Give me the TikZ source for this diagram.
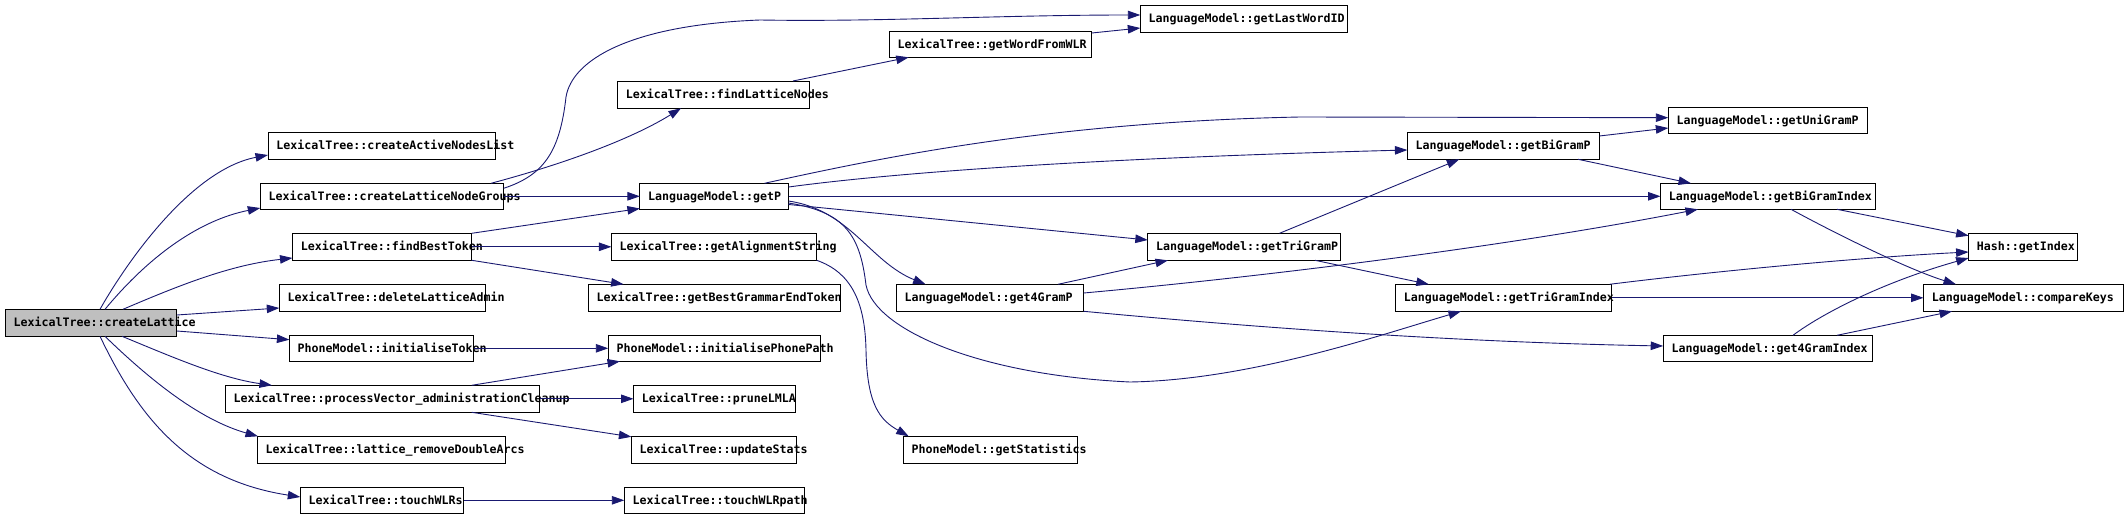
\documentclass[tikz,border=0pt]{standalone}
\usepackage{fontspec}
\newfontfamily\fnfont{DejaVu Sans Mono}
\usetikzlibrary{arrows.meta}
\definecolor{edgeblue}{HTML}{191970}
\definecolor{rootgray}{HTML}{BFBFBF}
\newcommand\fnbox[6]{\node[fn,minimum width=#3pt,minimum height=#5pt] (#1) at (#2,#4) {\makebox[#3pt][l]{\hspace{8.3pt}#6}};}
\newcommand\rel[3]{([shift={(#2,#3)}]#1.north west)}
\begin{document}
\begin{tikzpicture}[x=1pt,y=-1pt,
  fn/.style={draw=black, line width=1pt, inner sep=0pt, outer sep=0pt, anchor=north west,
    text height=8pt, text depth=0pt, font=\fnfont\bfseries\fontsize{11.63}{13}\selectfont},
  call/.style={draw=edgeblue, line width=0.9pt, -{Triangle[length=12.5pt,width=8.5pt]}},
]
\useasboundingbox (0,0) rectangle (2128,519);
% nodes
\node[fn,fill=rootgray,minimum width=171.4pt,minimum height=27pt] (cl) at (5.4,309.3) {\makebox[171.4pt][l]{\hspace{8.3pt}LexicalTree::createLattice}};
\fnbox{canl}{268}{227.4}{132.3}{27}{LexicalTree::createActiveNodesList}
\fnbox{clng}{260.3}{243.3}{183.3}{26}{LexicalTree::createLatticeNodeGroups}
\fnbox{fbt}{292.5}{179.2}{233.3}{27}{LexicalTree::findBestToken}
\fnbox{dla}{279.3}{206.3}{284.3}{27}{LexicalTree::deleteLatticeAdmin}
\fnbox{it}{289.4}{184.3}{335.3}{26}{PhoneModel::initialiseToken}
\fnbox{pv}{225.3}{314.2}{385.3}{27}{LexicalTree::processVector\_administrationCleanup}
\fnbox{lrda}{257.2}{248.4}{436.3}{27}{LexicalTree::lattice\_removeDoubleArcs}
\fnbox{tw}{300.3}{163.2}{487.3}{26}{LexicalTree::touchWLRs}
\fnbox{fln}{617.5}{192.1}{81}{27.3}{LexicalTree::findLatticeNodes}
\fnbox{gwfw}{889.3}{202.5}{31.3}{26}{LexicalTree::getWordFromWLR}
\fnbox{glw}{1140.3}{207}{5.3}{27.4}{LanguageModel::getLastWordID}
\fnbox{gp}{639.9}{148.6}{183.3}{26}{LanguageModel::getP}
\fnbox{gas}{611.4}{205.3}{233.3}{27}{LexicalTree::getAlignmentString}
\fnbox{gbget}{588.3}{252.2}{284.3}{27}{LexicalTree::getBestGrammarEndToken}
\fnbox{ipp}{608.3}{212.5}{335.3}{26}{PhoneModel::initialisePhonePath}
\fnbox{plm}{633.5}{161.8}{385.3}{27}{LexicalTree::pruneLMLA}
\fnbox{us}{631.4}{165.3}{436.3}{27}{LexicalTree::updateStats}
\fnbox{twp}{624.3}{180.5}{487.3}{26}{LexicalTree::touchWLRpath}
\fnbox{g4p}{896.4}{187.3}{284.3}{27}{LanguageModel::get4GramP}
\fnbox{gs}{903.2}{174.4}{436.3}{27}{PhoneModel::getStatistics}
\fnbox{gtp}{1147.8}{192.7}{233.3}{27}{LanguageModel::getTriGramP}
\fnbox{gbp}{1407.4}{192}{132.3}{27}{LanguageModel::getBiGramP}
\fnbox{gti}{1395.5}{216.1}{284.3}{27}{LanguageModel::getTriGramIndex}
\fnbox{gup}{1668.3}{199.5}{107.3}{26}{LanguageModel::getUniGramP}
\fnbox{gbi}{1660.5}{215.1}{183.3}{26}{LanguageModel::getBiGramIndex}
\fnbox{g4i}{1663.2}{209.4}{335.3}{26}{LanguageModel::get4GramIndex}
\fnbox{hgi}{1968.6}{109.2}{233.3}{27}{Hash::getIndex}
\fnbox{ck}{1923.5}{200.2}{284.3}{27}{LanguageModel::compareKeys}
% edges
\draw[call] \rel{cl}{94.6}{0} .. controls (125,265) and (190,170) .. \rel{canl}{0}{22.7};
\draw[call] \rel{cl}{99.6}{0} .. controls (150,255) and (200,220) .. \rel{clng}{0}{24.7};
\draw[call] \rel{cl}{117.6}{0} .. controls (180,285) and (230,265) .. \rel{fbt}{0}{24.7};
\draw[call] \rel{cl}{171.4}{5.7} -- \rel{dla}{0}{23.7};
\draw[call] \rel{cl}{171.4}{21.7} -- \rel{it}{0}{4.4};
\draw[call] \rel{cl}{116.6}{27} .. controls (170,356) and (220,378) .. \rel{pv}{46.7}{0};
\draw[call] \rel{cl}{99.6}{27} .. controls (150,380) and (200,420) .. \rel{lrda}{0.8}{0};
\draw[call] \rel{cl}{94.6}{27} .. controls (140,420) and (190,480) .. \rel{tw}{0}{9.7};
\draw[call] \rel{clng}{243.3}{5} .. controls (545,175) and (560,150) .. (566,97) .. controls (572,60) and (630,25) .. (760,20) .. controls (880,22) and (1000,15) .. \rel{glw}{0}{9.7};
\draw[call] \rel{clng}{230.7}{0} .. controls (560,165) and (630,140) .. \rel{fln}{63.5}{27.3};
\draw[call] (clng.east) -- (gp.west);
\draw[call] (fbt.north east) -- \rel{gp}{0}{25.2};
\draw[call] (fbt.east) -- (gas.west);
\draw[call] (fbt.south east) -- \rel{gbget}{35.3}{0};
\draw[call] (it.east) -- (ipp.west);
\draw[call] \rel{pv}{246.4}{0} -- \rel{ipp}{11.7}{26};
\draw[call] (pv.east) -- (plm.west);
\draw[call] \rel{pv}{246.4}{27} -- \rel{us}{0}{0.5};
\draw[call] (tw.east) -- (twp.west);
\draw[call] \rel{fln}{175.5}{0} -- \rel{gwfw}{19.4}{26};
\draw[call] \rel{gwfw}{202.5}{1.7} -- \rel{glw}{0}{22.7};
\draw[call] \rel{gp}{124.6}{0} .. controls (880,158) and (1050,122) .. (1300,117) -- \rel{gup}{0}{10.4};
\draw[call] \rel{gp}{148.6}{3.7} .. controls (900,172) and (1100,158) .. \rel{gbp}{0}{17.7};
\draw[call] (gp.east) -- (gbi.west);
\draw[call] \rel{gp}{148.6}{21.2} -- \rel{gtp}{0}{6.7};
\draw[call] \rel{gp}{148.6}{17.7} .. controls (850,210) and (870,262) .. \rel{g4p}{29.2}{0};
\draw[call] (gas.south east) .. controls (850,272) and (865,300) .. (866,350) .. controls (867,405) and (880,420) .. \rel{gs}{5.5}{0};
\draw[call] \rel{gp}{148.6}{19.7} .. controls (845,212) and (860,235) .. (866,285) .. controls (875,330) and (980,375) .. (1130,382) .. controls (1250,380) and (1380,335) .. \rel{gti}{65.5}{27};
\draw[call] \rel{g4p}{161.6}{0} -- \rel{gtp}{20.2}{27};
\draw[call] \rel{g4p}{187.3}{8.7} .. controls (1250,278) and (1500,248) .. \rel{gbi}{37.5}{26};
\draw[call] (g4p.south east) .. controls (1250,327) and (1450,342) .. \rel{g4i}{0}{10.7};
\draw[call] \rel{gtp}{131.7}{0} -- \rel{gbp}{51.9}{27};
\draw[call] \rel{gtp}{167.2}{27} -- \rel{gti}{33.3}{0};
\draw[call] \rel{gbp}{192}{3.7} -- \rel{gup}{0}{20.7};
\draw[call] \rel{gbp}{170.6}{27} -- \rel{gbi}{30.5}{0};
\draw[call] \rel{gbi}{176.5}{26} -- \rel{hgi}{0}{2.4};
\draw[call] \rel{gbi}{130.5}{26} .. controls (1840,236) and (1910,270) .. \rel{ck}{32.5}{0};
\draw[call] \rel{gti}{214.1}{0} .. controls (1700,273) and (1850,258) .. \rel{hgi}{0}{18.7};
\draw[call] (gti.east) -- (ck.west);
\draw[call] \rel{g4i}{129.8}{0} .. controls (1820,315) and (1880,283) .. \rel{hgi}{0}{24.7};
\draw[call] \rel{g4i}{173.8}{0} -- \rel{ck}{28.5}{27};
\end{tikzpicture}
\end{document}
